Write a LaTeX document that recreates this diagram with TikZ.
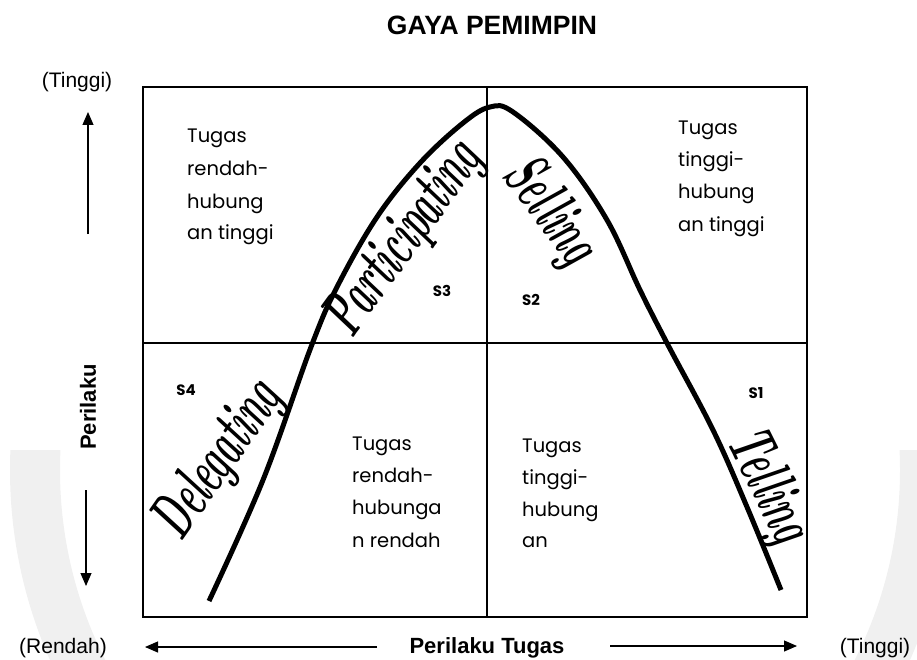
\documentclass[tikz,border=0pt]{standalone}
\usepackage{fontspec}
\usepackage{graphicx}
\newfontfamily\arialf{Liberation Sans}
\newfontfamily\gothicf{Poppins}
\usetikzlibrary{arrows.meta}
\colorlet{wmark}{black!6}
\newcommand\scrtext[1]{\scalebox{0.68}[1.3]{\fontsize{50}{54}\selectfont\bfseries\itshape #1}}
\begin{document}
\begin{tikzpicture}[x=1pt,y=-1pt,
  lbl/.style={font=\arialf\fontsize{21}{25}\selectfont, inner sep=0, anchor=base},
  blbl/.style={font=\arialf\bfseries\fontsize{22}{26}\selectfont, inner sep=0},
  quad/.style={font=\gothicf\fontsize{19.5}{23}\selectfont, anchor=base west, inner sep=0},
  slab/.style={font=\gothicf\bfseries\fontsize{15}{18}\selectfont, inner sep=0},
  scr/.style={inner sep=0},
  gridline/.style={line width=1.6pt},
  arr/.style={line width=1.1pt, -{Triangle[length=13pt,width=11pt]}},
  curveline/.style={line width=5pt}
]
\useasboundingbox (0,0) rectangle (917,660);
% faint watermark (partly hidden behind the chart)
\begin{scope}
  \clip (0,450) rectangle (917,660);
  \fill[wmark, even odd rule] (480,470) circle[radius=470] (480,470) circle[radius=420];
\end{scope}
\fill[white] (77,330) rectangle (118,462);
% title
\node[font=\arialf\bfseries\fontsize{26.5}{30}\selectfont, inner sep=0] (title) at (492,25) {GAYA PEMIMPIN};
% box
\coordinate (bnw) at (143,87);
\coordinate (bse) at (807,617);
\coordinate (mt) at (487,87);
\coordinate (mb) at (487,617);
\coordinate (ml) at (143,343);
\coordinate (mr) at (807,343);
\draw[gridline, fill=white] (bnw) rectangle (bse);
\draw[gridline] (mt) -- (mb);
\draw[gridline] (ml) -- (mr);
% curve
\draw[curveline] plot[smooth, tension=0.6] coordinates {(209,601) (263,480) (311,347) (337,287) (377,217) (420,163) (463,123) (490,107) (513,112) (563,157) (607,220) (640,290) (668,345) (713,430) (747,507) (781,590)};
% quadrant texts
\node[quad] (a1) at (187,143) {Tugas};
\node[quad] (a2) at (187,175.5) {rendah-};
\node[quad] (a3) at (187,208) {hubung};
\node[quad] (a4) at (187,240) {an tinggi};
\node[quad] (b1) at (678,135) {Tugas};
\node[quad] (b2) at (678,167) {tinggi-};
\node[quad] (b3) at (678,199) {hubung};
\node[quad] (b4) at (678,231) {an tinggi};
\node[quad] (c1) at (352,450) {Tugas};
\node[quad] (c2) at (352,482.3) {rendah-};
\node[quad] (c3) at (352,514.6) {hubunga};
\node[quad] (c4) at (352,547) {n rendah};
\node[quad] (d1) at (522,452) {Tugas};
\node[quad] (d2) at (522,484) {tinggi-};
\node[quad] (d3) at (522,516) {hubung};
\node[quad] (d4) at (522,547) {an};
% S labels
\node[slab] (s3) at (442,291) {S3};
\node[slab] (s2) at (531,300) {S2};
\node[slab] (s4) at (186,390) {S4};
\node[slab] (s1) at (756,393) {S1};
% script labels
\node[scr, rotate=55] (deleg) at (219,461) {\scrtext{Delegating}};
\node[scr, rotate=54] (partic) at (405,240) {\scrtext{Participating}};
\node[scr, rotate=-53.5] (sell) at (549,212) {\scrtext{Selling}};
\node[scr, rotate=-63.5] (tell) at (767,487) {\scrtext{Telling}};
% vertical axis
\node[lbl] (ytop) at (77,88) {(Tinggi)};
\coordinate (upS) at (88,234);
\coordinate (upE) at (88,112);
\draw[arr] (upS) -- (upE);
\node[blbl, rotate=90] (ylab) at (88,407) {Perilaku};
\coordinate (dnS) at (86,490);
\coordinate (dnE) at (86,586);
\draw[arr] (dnS) -- (dnE);
% horizontal axis
\node[lbl] (xlow) at (63,653) {(Rendah)};
\node[blbl, anchor=base] (xlab) at (487,653) {Perilaku Tugas};
\node[lbl] (xhigh) at (875,653) {(Tinggi)};
\coordinate (lfS) at (377,647);
\coordinate (lfE) at (145,647);
\coordinate (rtS) at (610,646);
\coordinate (rtE) at (797,646);
\draw[arr] (lfS) -- (lfE);
\draw[arr] (rtS) -- (rtE);
\end{tikzpicture}
\end{document}
